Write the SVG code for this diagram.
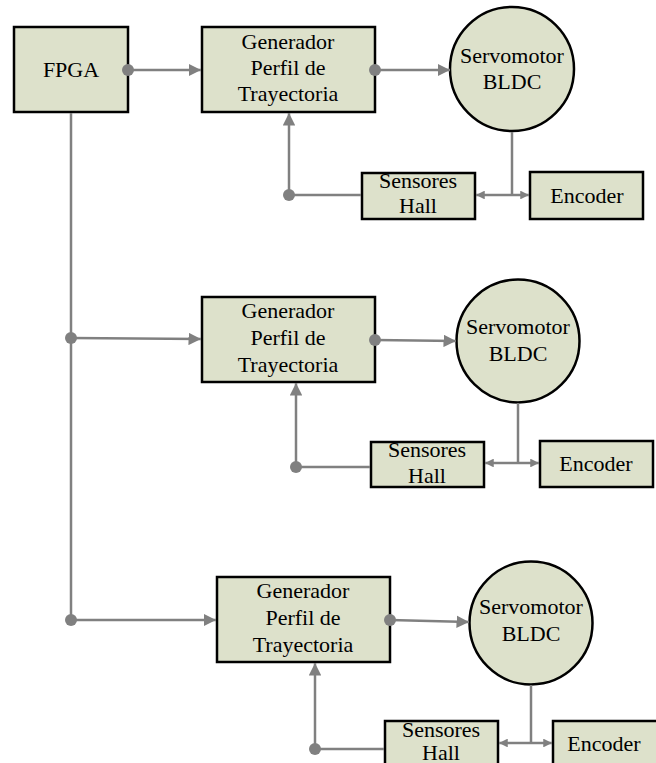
<svg xmlns="http://www.w3.org/2000/svg" width="656" height="763" viewBox="0 0 656 763">
<defs>
<style>
.box{fill:#dde1cb;stroke:#000;stroke-width:2.5}
.ln{fill:none;stroke:#808080;stroke-width:2.5}
.t{font-family:"Liberation Serif","Times New Roman",serif;font-size:22px;fill:#000;text-anchor:middle}
.dot{fill:#808080}
</style>
<marker id="ah" viewBox="0 0 10 10" refX="10" refY="5" markerWidth="5" markerHeight="5" markerUnits="strokeWidth" orient="auto"><path d="M0,0 L10,5 L0,10 z" fill="#808080"/></marker>
<marker id="as" viewBox="0 0 10 10" refX="10" refY="5" markerWidth="3.5" markerHeight="3.5" markerUnits="strokeWidth" orient="auto"><path d="M0,0 L10,5 L0,10 z" fill="#808080"/></marker>
</defs>
<g id="fpga">
<rect class="box" x="14" y="27" width="114" height="85"/>
<text class="t" x="71" y="77">FPGA</text>
</g>
<g id="gen1">
<rect class="box" x="202" y="27" width="173" height="85"/>
<text class="t" x="288" y="49">Generador</text>
<text class="t" x="288" y="75">Perfil de</text>
<text class="t" x="288" y="101">Trayectoria</text>
</g>
<g id="servo1">
<circle class="box" cx="512" cy="69" r="62"/>
<text class="t" x="512" y="63">Servomotor</text>
<text class="t" x="512" y="89">BLDC</text>
</g>
<g id="hall1">
<rect class="box" x="362" y="173" width="113" height="46"/>
<text class="t" x="418" y="188">Sensores</text>
<text class="t" x="418" y="213">Hall</text>
</g>
<g id="enc1">
<rect class="box" x="530" y="172" width="113" height="47"/>
<text class="t" x="587" y="203">Encoder</text>
</g>
<g id="gen2">
<rect class="box" x="202" y="297" width="173" height="85"/>
<text class="t" x="288" y="318">Generador</text>
<text class="t" x="288" y="345">Perfil de</text>
<text class="t" x="288" y="372">Trayectoria</text>
</g>
<g id="servo2">
<circle class="box" cx="518" cy="341" r="61.5"/>
<text class="t" x="518" y="334">Servomotor</text>
<text class="t" x="518" y="361">BLDC</text>
</g>
<g id="hall2">
<rect class="box" x="371" y="442" width="113" height="45"/>
<text class="t" x="427" y="457">Sensores</text>
<text class="t" x="427" y="483">Hall</text>
</g>
<g id="enc2">
<rect class="box" x="540" y="441" width="113" height="46"/>
<text class="t" x="596" y="471">Encoder</text>
</g>
<g id="gen3">
<rect class="box" x="217" y="577" width="173" height="85"/>
<text class="t" x="303" y="598">Generador</text>
<text class="t" x="303" y="625">Perfil de</text>
<text class="t" x="303" y="652">Trayectoria</text>
</g>
<g id="servo3">
<circle class="box" cx="531" cy="623" r="61.5"/>
<text class="t" x="531" y="614">Servomotor</text>
<text class="t" x="531" y="641">BLDC</text>
</g>
<g id="hall3">
<rect class="box" x="385" y="721" width="113" height="50"/>
<text class="t" x="441" y="737">Sensores</text>
<text class="t" x="441" y="760">Hall</text>
</g>
<g id="enc3">
<rect class="box" x="553" y="721" width="113" height="50"/>
<text class="t" x="604" y="751">Encoder</text>
</g>
<g id="connectors">
<line class="ln" x1="71" y1="113" x2="71" y2="620"/>
<line class="ln" x1="128" y1="70" x2="201" y2="70" marker-end="url(#ah)"/>
<line class="ln" x1="375" y1="70" x2="450" y2="70" marker-end="url(#ah)"/>
<line class="ln" x1="512" y1="132" x2="512" y2="195"/>
<line class="ln" x1="500" y1="195" x2="476" y2="195" marker-end="url(#as)"/>
<line class="ln" x1="500" y1="195" x2="529" y2="195" marker-end="url(#as)"/>
<line class="ln" x1="361" y1="195" x2="289" y2="195"/>
<line class="ln" x1="289" y1="195" x2="289" y2="113" marker-end="url(#ah)"/>
<line class="ln" x1="71" y1="338" x2="201" y2="339" marker-end="url(#ah)"/>
<line class="ln" x1="375" y1="340" x2="456" y2="341" marker-end="url(#ah)"/>
<line class="ln" x1="518" y1="403" x2="518" y2="463"/>
<line class="ln" x1="510" y1="463" x2="485" y2="463" marker-end="url(#as)"/>
<line class="ln" x1="510" y1="463" x2="539" y2="463" marker-end="url(#as)"/>
<line class="ln" x1="370" y1="467" x2="296" y2="467"/>
<line class="ln" x1="296" y1="467" x2="296" y2="383" marker-end="url(#ah)"/>
<line class="ln" x1="71" y1="620" x2="216" y2="620" marker-end="url(#ah)"/>
<line class="ln" x1="390" y1="620" x2="469" y2="622" marker-end="url(#ah)"/>
<line class="ln" x1="531" y1="685" x2="531" y2="743"/>
<line class="ln" x1="520" y1="743" x2="499" y2="743" marker-end="url(#as)"/>
<line class="ln" x1="520" y1="743" x2="552" y2="743" marker-end="url(#as)"/>
<line class="ln" x1="384" y1="749" x2="315" y2="749"/>
<line class="ln" x1="315" y1="749" x2="315" y2="663" marker-end="url(#ah)"/>
<circle class="dot" cx="128" cy="70" r="6"/>
<circle class="dot" cx="375" cy="70" r="6"/>
<circle class="dot" cx="289" cy="195" r="6"/>
<circle class="dot" cx="71" cy="338" r="6"/>
<circle class="dot" cx="375" cy="340" r="6"/>
<circle class="dot" cx="296" cy="467" r="6"/>
<circle class="dot" cx="71" cy="620" r="6"/>
<circle class="dot" cx="390" cy="620" r="6"/>
<circle class="dot" cx="315" cy="749" r="6"/>
</g>
</svg>
